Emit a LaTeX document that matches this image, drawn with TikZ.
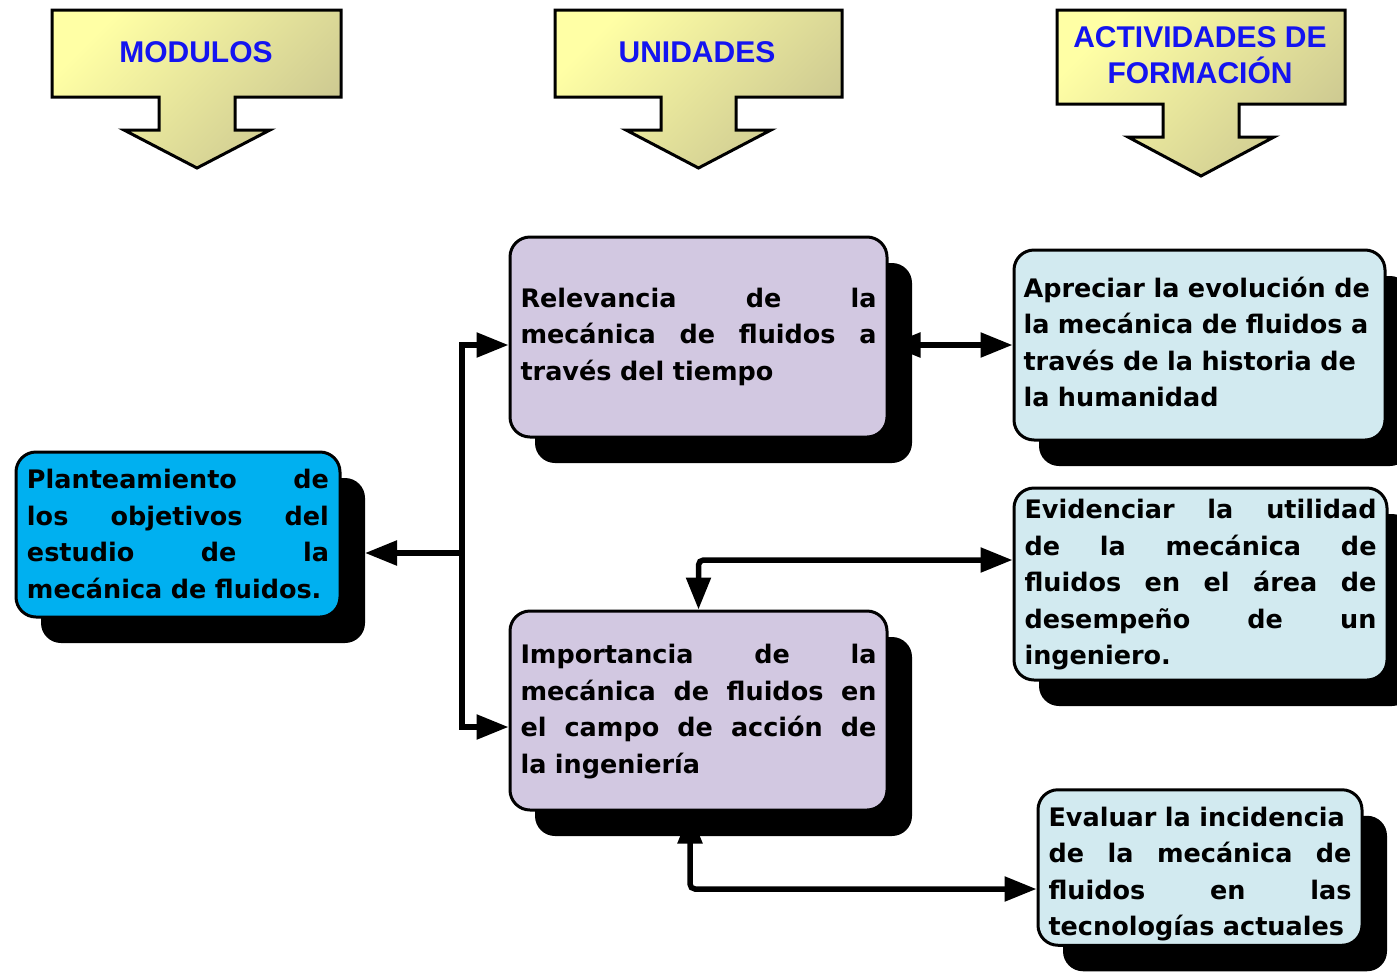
\documentclass[tikz,border=0pt]{standalone}
\usepackage{fontspec}
\setmainfont{DejaVu Sans}
\newfontfamily\hfont{Liberation Sans}
\usetikzlibrary{arrows.meta,shadows,calc}
\pgfdeclarelayer{background}
\pgfsetlayers{background,main}
\definecolor{lav}{RGB}{210,200,225}
\definecolor{skyb}{RGB}{0,176,240}
\definecolor{pale}{RGB}{210,234,240}
\definecolor{hy1}{RGB}{255,255,165}
\definecolor{hy2}{RGB}{204,200,145}
\definecolor{htxt}{RGB}{20,20,240}
\newcommand\J[1]{\par\noindent\hbox to\linewidth{#1}\par}
\newcommand\lastl[1]{\par\noindent #1\par}
\newcommand\boxfnt{\fontsize{25.5}{36.5}\selectfont\bfseries}
\tikzset{
  bigtri/.tip={Triangle[length=32pt,width=24pt]},
  box/.style={draw=black, line width=3pt, rounded corners=20pt, align=left,
    inner sep=0pt, font=\boxfnt,
    drop shadow={shadow xshift=25pt, shadow yshift=-26pt, opacity=1, fill=black}},
  htext/.style={font=\hfont\fontsize{30}{36}\selectfont\bfseries, text=htxt, align=center},
  hdr/.style={draw=black, line width=3pt, top color=hy1, bottom color=hy2, shading angle=45},
  conn/.style={draw=black, line width=5.5pt}
}
\begin{document}
\begin{tikzpicture}[x=1pt,y=-1pt]
\begin{pgfonlayer}{background}
\fill[white] (0,0) rectangle (1397,975);
\end{pgfonlayer}
\useasboundingbox (0,0) rectangle (1397,975);

% header arrows
\shadedraw[hdr] (52,10) -- (341,10) -- (341,97) -- (235,97) -- (235,130) -- (270,130)
  -- (197,168) -- (124,130) -- (159,130) -- (159,97) -- (52,97) -- cycle;
\shadedraw[hdr] (555,10) -- (842,10) -- (842,97) -- (736,97) -- (736,130) -- (771,130)
  -- (698.5,168) -- (626,130) -- (661,130) -- (661,97) -- (555,97) -- cycle;
\shadedraw[hdr] (1057,10) -- (1345,10) -- (1345,104) -- (1239,104) -- (1239,137) -- (1274,137)
  -- (1201,176) -- (1128,137) -- (1163,137) -- (1163,104) -- (1057,104) -- cycle;
\node[htext] (hm) at (196,52) {MODULOS};
\node[htext] (hu) at (697,52) {UNIDADES};
\node[htext] (ha) at (1200,55) {ACTIVIDADES DE\\FORMACIÓN};

% boxes
\node[box, fill=skyb, minimum width=324pt, minimum height=165pt, text width=302pt] (P) at (178,534.5)
  {\J{Planteamiento\hfill de}\J{los\hfill objetivos\hfill del}\J{estudio\hfill de\hfill la}\lastl{mecánica de fluidos.}\kern18pt};
\node[box, fill=lav, minimum width=377pt, minimum height=200pt, text width=356pt] (R) at (698.5,337)
  {\J{Relevancia\hfill de\hfill la}\J{mecánica\hfill de\hfill fluidos\hfill a}\lastl{través del tiempo}\kern18pt};
\node[box, fill=lav, minimum width=377pt, minimum height=199pt, text width=356pt] (I) at (698.5,710.5)
  {\J{Importancia\hfill de\hfill la}\J{mecánica\hfill de\hfill fluidos\hfill en}\J{el\hfill campo\hfill de\hfill acción\hfill de}\lastl{la ingeniería}\kern15pt};
\node[box, fill=pale, minimum width=371pt, minimum height=190pt, text width=352pt] (A) at (1199.5,345)
  {\J{Apreciar la evolución de}\J{la mecánica de fluidos a}\J{través de la historia de}\lastl{la humanidad}\kern22pt};
\node[box, fill=pale, minimum width=373pt, minimum height=192pt, text width=352pt] (E) at (1200.5,584)
  {\par\kern-8pt\J{Evidenciar\hfill la\hfill utilidad}\J{de\hfill la\hfill mecánica\hfill de}\J{fluidos\hfill en\hfill el\hfill área\hfill de}\J{desempeño\hfill de\hfill un}\lastl{ingeniero.}\kern8pt};
\node[box, fill=pale, minimum width=324pt, minimum height=155pt, text width=303pt] (V) at (1200,867.5)
  {\J{Evaluar la incidencia}\J{de\hfill la\hfill mecánica\hfill de}\J{fluidos\hfill en\hfill las}\lastl{tecnologías actuales}\kern4pt};

% connectors
\coordinate (J) at (462,553);
\coordinate (Ptip) at (365,553);
\coordinate (y345) at (0,345);
\coordinate (y727) at (0,727);
\coordinate (y560) at (0,560);
\coordinate (y889) at (0,889);
\coordinate (x690) at (690,0);
\begin{pgfonlayer}{background}
\draw[conn,-{bigtri}] (J) -- (Ptip);
\draw[conn,-{bigtri}] (J) |- (R.west |- y345);
\draw[conn,-{bigtri}] (J) |- (I.west |- y727);
\draw[conn,{bigtri}-{bigtri}] (R.east |- y345) -- (A.west |- y345);
\draw[conn,{bigtri}-{bigtri},rounded corners=5pt] (I.north) |- (E.west |- y560);
\draw[conn,{bigtri}-{bigtri},rounded corners=5pt] (I.south -| x690) |- (V.west |- y889);
\end{pgfonlayer}
\end{tikzpicture}
\end{document}
